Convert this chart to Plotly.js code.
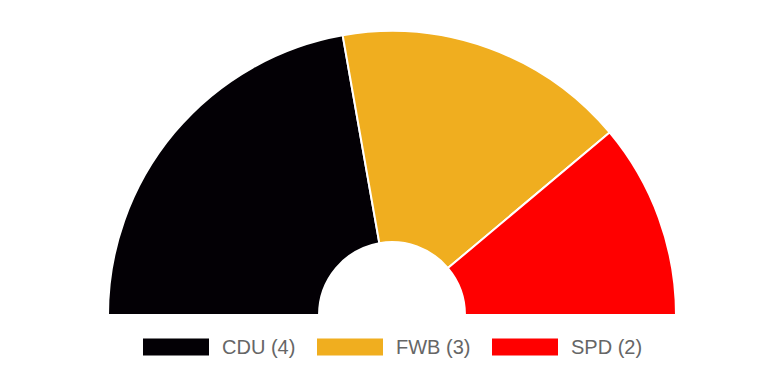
<!DOCTYPE html>
<html>
<head>
<meta charset="utf-8">
<script src="https://cdn.plot.ly/plotly-3.0.1.min.js"></script>
<style>
html, body { margin: 0; padding: 0; background: #fff; overflow: hidden; width: 780px; height: 382px; }
#chart { width: 780px; height: 620px; }
</style>
</head>
<body>
<div id="chart"></div>
<script>
// Data
const parties = ['CDU', 'FWB', 'SPD'];
const seats = [4, 3, 2];
const colors = ['#030005', '#F0AE1F', '#FF0000'];

// Layout geometry (pixels)
const W = 780, H = 620;
const cx = 392, cy = 315, R = 284;
const px2x = p => p / W;
const px2y = p => (H - p) / H;

const total = seats.reduce((a, b) => a + b, 0);
const labels = parties.concat(['']);
const values = seats.concat([total]);
const sliceColors = colors.concat(['rgba(0,0,0,0)']);
const lineColors = parties.map(() => '#ffffff').concat(['rgba(0,0,0,0)']);

const trace = {
  type: 'pie',
  labels: labels,
  values: values,
  sort: false,
  direction: 'clockwise',
  rotation: -90,
  hole: 0.257,
  textinfo: 'none',
  hoverinfo: 'none',
  marker: { colors: sliceColors, line: { color: lineColors, width: 2 } },
  domain: { x: [px2x(cx - R), px2x(cx + R)], y: [px2y(cy + R), px2y(cy - R)] }
};

// Custom legend with wide colour boxes
const boxX = [143, 317, 492];
const boxW = 66, boxTop = 338.5, boxBot = 355.5;
const shapes = [], annotations = [];
parties.forEach((p, i) => {
  shapes.push({
    type: 'rect', xref: 'paper', yref: 'paper',
    x0: px2x(boxX[i]), x1: px2x(boxX[i] + boxW),
    y0: px2y(boxBot), y1: px2y(boxTop),
    fillcolor: colors[i], line: { width: 0 }
  });
  annotations.push({
    xref: 'paper', yref: 'paper',
    x: px2x(boxX[i] + boxW + 11), y: px2y((boxTop + boxBot) / 2 - 0.5),
    xanchor: 'left', yanchor: 'middle', showarrow: false,
    text: p + ' (' + seats[i] + ')',
    font: { family: 'Liberation Sans, Arial, sans-serif', size: 20, color: '#666666' }
  });
});

const layout = {
  width: W, height: H,
  margin: { l: 0, r: 0, t: 0, b: 0 },
  paper_bgcolor: '#ffffff',
  plot_bgcolor: '#ffffff',
  showlegend: false,
  shapes: shapes,
  annotations: annotations
};

Plotly.newPlot('chart', [trace], layout, { displayModeBar: false, staticPlot: true });
</script>
</body>
</html>
